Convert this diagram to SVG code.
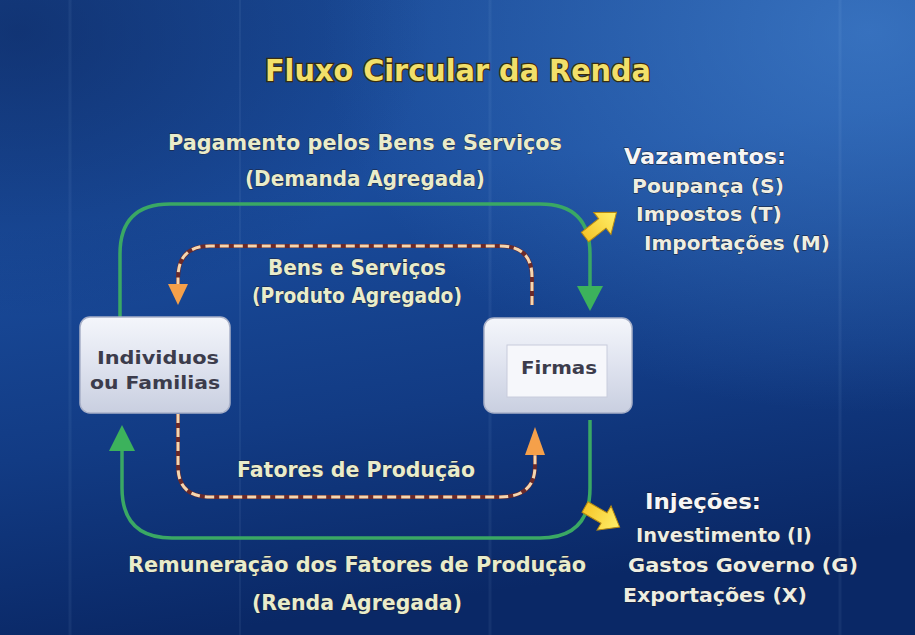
<svg xmlns="http://www.w3.org/2000/svg" width="915" height="635" viewBox="0 0 915 635">
<defs>
<linearGradient id="bg" x1="0" y1="0" x2="0.2" y2="1">
<stop offset="0" stop-color="#1a4a96"/>
<stop offset="0.35" stop-color="#1a4c9c"/>
<stop offset="0.7" stop-color="#123b84"/>
<stop offset="1" stop-color="#0a2866"/>
</linearGradient>
<radialGradient id="glowTR" cx="0.95" cy="0.05" r="0.6">
<stop offset="0" stop-color="#4a8ad6" stop-opacity="0.6"/>
<stop offset="1" stop-color="#4a8ad6" stop-opacity="0"/>
</radialGradient>
<radialGradient id="darkTL" cx="0.02" cy="0.05" r="0.45">
<stop offset="0" stop-color="#0a2258" stop-opacity="0.55"/>
<stop offset="1" stop-color="#0a2258" stop-opacity="0"/>
</radialGradient>
<linearGradient id="box" x1="0" y1="0" x2="0" y2="1">
<stop offset="0" stop-color="#f4f6fb"/>
<stop offset="0.5" stop-color="#dfe3ef"/>
<stop offset="1" stop-color="#c9cfe0"/>
</linearGradient>
<linearGradient id="yel" x1="0" y1="0" x2="1" y2="0">
<stop offset="0" stop-color="#f6c62a"/>
<stop offset="1" stop-color="#fff06a"/>
</linearGradient>
<style>
.lbl{font-family:"DejaVu Sans","Liberation Sans",sans-serif;font-size:21px;font-weight:bold;fill:#e9eccb;text-anchor:middle;stroke:#1e2234;stroke-width:0.8px;paint-order:stroke}
.side{font-family:"DejaVu Sans","Liberation Sans",sans-serif;font-size:20px;font-weight:bold;fill:#eeeee2;stroke:#1a1a2a;stroke-width:0.8px;paint-order:stroke}
.sideh{font-family:"DejaVu Sans","Liberation Sans",sans-serif;font-size:21px;font-weight:bold;fill:#f6f6f6;stroke:#1a1a2a;stroke-width:0.8px;paint-order:stroke}
.boxt{font-family:"DejaVu Sans","Liberation Sans",sans-serif;font-size:18px;font-weight:bold;fill:#3c3c4c;text-anchor:middle}
.green{fill:none;stroke:#3aa864;stroke-width:3.5}
.ghead{fill:#3cb25c}
.ohead{fill:#f5a04a}
.dashbg{fill:none;stroke:#6a2a2a;stroke-width:4}
.dash{fill:none;stroke:#f4d6b0;stroke-width:3;stroke-dasharray:9 5}
</style>
</defs>
<rect width="915" height="635" fill="url(#bg)"/>
<rect width="915" height="635" fill="url(#glowTR)"/>
<rect width="915" height="635" fill="url(#darkTL)"/>
<g opacity="0.06" stroke="#bfe0ff">
<line x1="70" y1="0" x2="70" y2="635" stroke-width="3"/>
<line x1="240" y1="0" x2="240" y2="635" stroke-width="2"/>
<line x1="490" y1="0" x2="490" y2="635" stroke-width="3"/>
<line x1="840" y1="0" x2="840" y2="635" stroke-width="3"/>
</g>

<text x="458" y="81" font-family="DejaVu Sans,Liberation Sans,sans-serif" font-size="30" font-weight="bold" fill="#f2e06a" stroke="#3a2c10" stroke-width="2.5" paint-order="stroke" text-anchor="middle" textLength="386" lengthAdjust="spacingAndGlyphs">Fluxo Circular da Renda</text>

<g id="connectors">
<path class="green" d="M 120 318 L 120 254 Q 120 204 170 204 L 540 204 Q 590 204 590 254 L 590 290"/>
<polygon class="ghead" points="577,286 603,286 590,311"/>
<path class="green" d="M 590 420 L 590 488 Q 590 538 540 538 L 172 538 Q 122 538 122 488 L 122 448"/>
<polygon class="ghead" points="109,451 135,451 122,425"/>
<path class="dashbg" d="M 532 305 L 532 277 Q 532 246 500 246 L 210 246 Q 178 246 178 278 L 178 286"/>
<path class="dash" d="M 532 305 L 532 277 Q 532 246 500 246 L 210 246 Q 178 246 178 278 L 178 286"/>
<polygon class="ohead" points="168,284 188,284 178,305"/>
<path class="dashbg" d="M 178 414 L 178 466 Q 178 497 210 497 L 500 497 Q 535 497 535 466 L 535 454"/>
<path class="dash" d="M 178 414 L 178 466 Q 178 497 210 497 L 500 497 Q 535 497 535 466 L 535 454"/>
<polygon class="ohead" points="525,455 545,455 535,427"/>
</g>

<g id="yellow-arrows">
<path d="M 0 -6 L 22 -6 L 22 -14 L 40 0 L 22 14 L 22 6 L 0 6 Z" fill="url(#yel)" stroke="#b88a10" stroke-width="1" transform="translate(585 237) rotate(-38)"/>
<path d="M 0 -6 L 22 -6 L 22 -14 L 40 0 L 22 14 L 22 6 L 0 6 Z" fill="url(#yel)" stroke="#b88a10" stroke-width="1" transform="translate(585 507) rotate(30)"/>
</g>

<g id="labels">
<text class="lbl" x="365" y="150" textLength="394" lengthAdjust="spacingAndGlyphs">Pagamento pelos Bens e Serviços</text>
<text class="lbl" x="365" y="186" textLength="240" lengthAdjust="spacingAndGlyphs">(Demanda Agregada)</text>
<text class="lbl" x="357" y="275" textLength="178" lengthAdjust="spacingAndGlyphs">Bens e Serviços</text>
<text class="lbl" x="357" y="303" textLength="210" lengthAdjust="spacingAndGlyphs">(Produto Agregado)</text>
<text class="lbl" x="356" y="477" textLength="238" lengthAdjust="spacingAndGlyphs">Fatores de Produção</text>
<text class="lbl" x="357" y="572" textLength="458" lengthAdjust="spacingAndGlyphs">Remuneração dos Fatores de Produção</text>
<text class="lbl" x="357" y="610" textLength="210" lengthAdjust="spacingAndGlyphs">(Renda Agregada)</text>
</g>

<g id="vazamentos">
<text class="sideh" x="624" y="164" textLength="162" lengthAdjust="spacingAndGlyphs">Vazamentos:</text>
<text class="side" x="632" y="193" textLength="152" lengthAdjust="spacingAndGlyphs">Poupança (S)</text>
<text class="side" x="636" y="221" textLength="146" lengthAdjust="spacingAndGlyphs">Impostos (T)</text>
<text class="side" x="644" y="250" textLength="186" lengthAdjust="spacingAndGlyphs">Importações (M)</text>
</g>

<g id="injecoes">
<text class="sideh" x="645" y="509" textLength="116" lengthAdjust="spacingAndGlyphs">Injeções:</text>
<text class="side" x="636" y="542" textLength="176" lengthAdjust="spacingAndGlyphs">Investimento (I)</text>
<text class="side" x="628" y="572" textLength="230" lengthAdjust="spacingAndGlyphs">Gastos Governo (G)</text>
<text class="side" x="623" y="602" textLength="184" lengthAdjust="spacingAndGlyphs">Exportações (X)</text>
</g>

<g id="individuos">
<rect x="80" y="317" width="150" height="96" rx="10" fill="url(#box)" stroke="#a8b0c8" stroke-width="1.5"/>
<text class="boxt" x="158" y="364" textLength="122" lengthAdjust="spacingAndGlyphs">Individuos</text>
<text class="boxt" x="155" y="389" textLength="130" lengthAdjust="spacingAndGlyphs">ou Familias</text>
</g>

<g id="firmas">
<rect x="484" y="318" width="148" height="95" rx="10" fill="url(#box)" stroke="#a8b0c8" stroke-width="1.5"/>
<rect x="507" y="345" width="100" height="52" fill="#f6f7fb" stroke="#c8ccdc" stroke-width="1"/>
<text class="boxt" x="559" y="374" textLength="76" lengthAdjust="spacingAndGlyphs">Firmas</text>
</g>
</svg>
